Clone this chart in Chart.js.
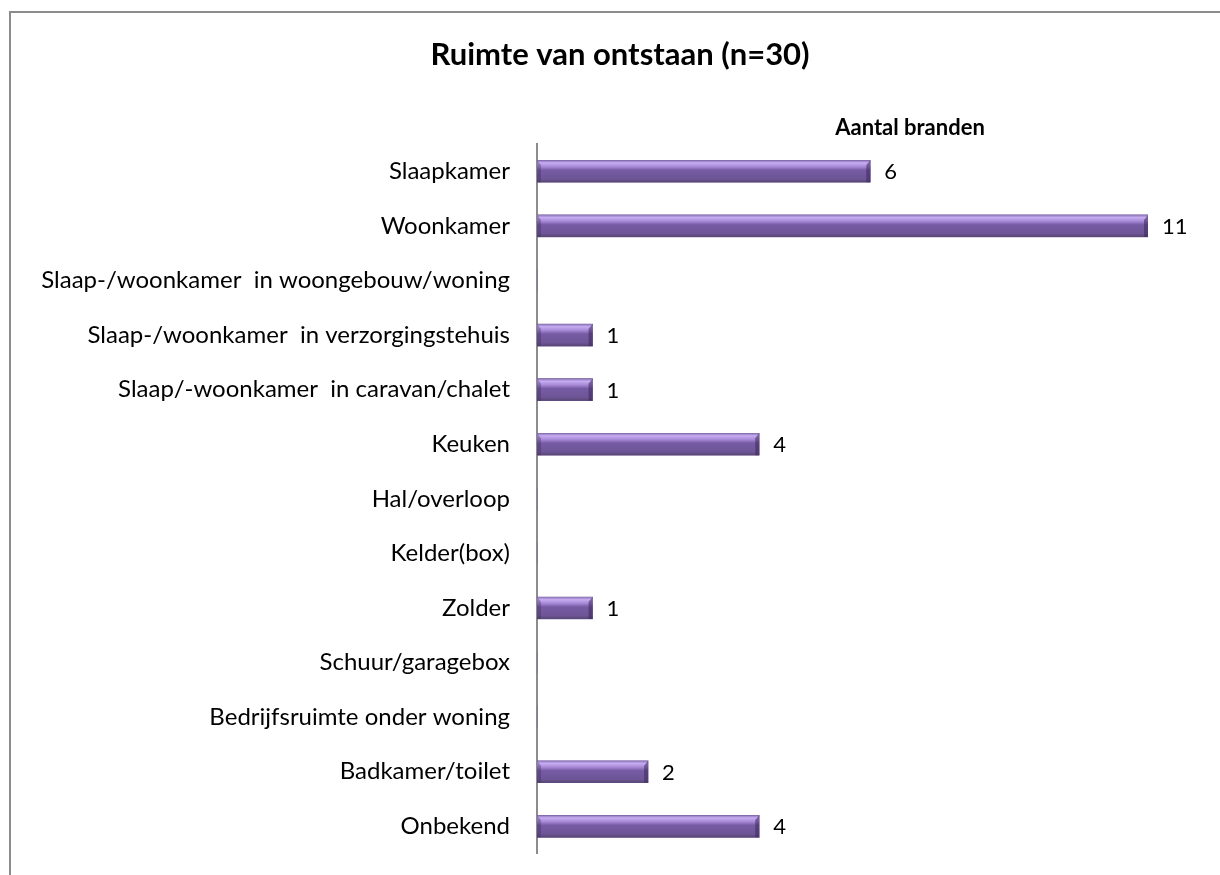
<!DOCTYPE html>
<html>
<head>
<meta charset="utf-8">
<script src="https://cdn.jsdelivr.net/npm/chart.js@4.4.1/dist/chart.umd.min.js"></script>
<style>
  html, body { margin: 0; padding: 0; background: #fff; overflow: hidden; }
  #frame { position: absolute; left: 9px; top: 11px; width: 1400px; height: 1000px;
           border-top: 2px solid #8c8c8c; border-left: 2px solid #8c8c8c; }
  #chart { position: absolute; left: 0; top: 0; }
</style>
</head>
<body>
<div id="frame"></div>
<canvas id="chart" width="1220" height="895"></canvas>
<script>
// categories (rooms) and number of fires
var rooms = [
    'Slaapkamer',
    'Woonkamer',
    'Slaap-/woonkamer  in woongebouw/woning',
    'Slaap-/woonkamer  in verzorgingstehuis',
    'Slaap/-woonkamer  in caravan/chalet',
    'Keuken',
    'Hal/overloop',
    'Kelder(box)',
    'Zolder',
    'Schuur/garagebox',
    'Bedrijfsruimte onder woning',
    'Badkamer/toilet',
    'Onbekend'
];
var branden = [6, 11, 0, 1, 1, 4, 0, 0, 1, 0, 0, 2, 4];

var seriesLabel = 'Aantal branden';
var chartTitle = 'Ruimte van ontstaan (n=30)';

var FONT = 'Lato, "Open Sans", sans-serif';

// draws the bevelled purple look on each bar, the values, title and series name
var barLook = {
    id: 'barLook',
    afterDatasetsDraw: function(chart) {
        var c = chart.ctx;
        var meta = chart.getDatasetMeta(0);
        meta.data.forEach(function(el, i) {
            var v = branden[i];
            var left = el.base, right = el.x;
            var top = el.y - el.height / 2, h = el.height;
            if (v > 0) {
                var g = c.createLinearGradient(0, top, 0, top + h);
                g.addColorStop(0, '#8a72b6');
                g.addColorStop(0.12, '#c6acf0');
                g.addColorStop(0.28, '#a98bd9');
                g.addColorStop(0.45, '#765ba3');
                g.addColorStop(0.85, '#6d5596');
                g.addColorStop(1, '#574671');
                c.save();
                c.fillStyle = g;
                c.fillRect(left, top, right - left, h);
                // right end bevel
                c.fillStyle = 'rgba(60,40,90,0.55)';
                c.beginPath();
                c.moveTo(right - 4, top + 5);
                c.lineTo(right, top);
                c.lineTo(right, top + h);
                c.lineTo(right - 4, top + h);
                c.closePath();
                c.fill();
                // left end bevel
                c.fillStyle = 'rgba(60,40,90,0.35)';
                c.beginPath();
                c.moveTo(left, top);
                c.lineTo(left + 4, top + 5);
                c.lineTo(left + 4, top + h);
                c.lineTo(left, top + h);
                c.closePath();
                c.fill();
                c.restore();

                c.save();
                c.fillStyle = '#000';
                c.font = '22px ' + FONT;
                c.textAlign = 'left';
                c.textBaseline = 'middle';
                c.fillText(String(v), right + 14, el.y + 1);
                c.restore();
            }
        });
        c.save();
        c.fillStyle = '#000';
        c.textAlign = 'center';
        c.textBaseline = 'middle';
        // title
        c.font = 'bold 31px ' + FONT;
        c.fillText(chartTitle, 620, 55);
        // series name above the bars
        c.font = 'bold 22px ' + FONT;
        c.fillText(seriesLabel, 910, 128);
        c.restore();
    }
};

new Chart(document.getElementById('chart'), {
    type: 'bar',
    data: {
        labels: rooms,
        datasets: [{
            label: seriesLabel,
            data: branden,
            backgroundColor: '#6f5596',
            borderWidth: 0,
            barThickness: 22
        }]
    },
    options: {
        indexAxis: 'y',
        responsive: false,
        animation: false,
        layout: { padding: { top: 144, right: 72, bottom: 0, left: 0 } },
        plugins: {
            legend: { display: false },
            tooltip: { enabled: false },
            title: { display: false }
        },
        scales: {
            x: {
                display: false,
                min: 0,
                max: 11
            },
            y: {
                afterFit: function(scale) { scale.width = 537; },
                grid: { display: false, drawTicks: false },
                border: { display: true, color: '#8c8c8c', width: 2 },
                ticks: {
                    color: '#000',
                    padding: 27,
                    font: { family: FONT, size: 24 }
                }
            }
        }
    },
    plugins: [barLook]
});
</script>
</body>
</html>
